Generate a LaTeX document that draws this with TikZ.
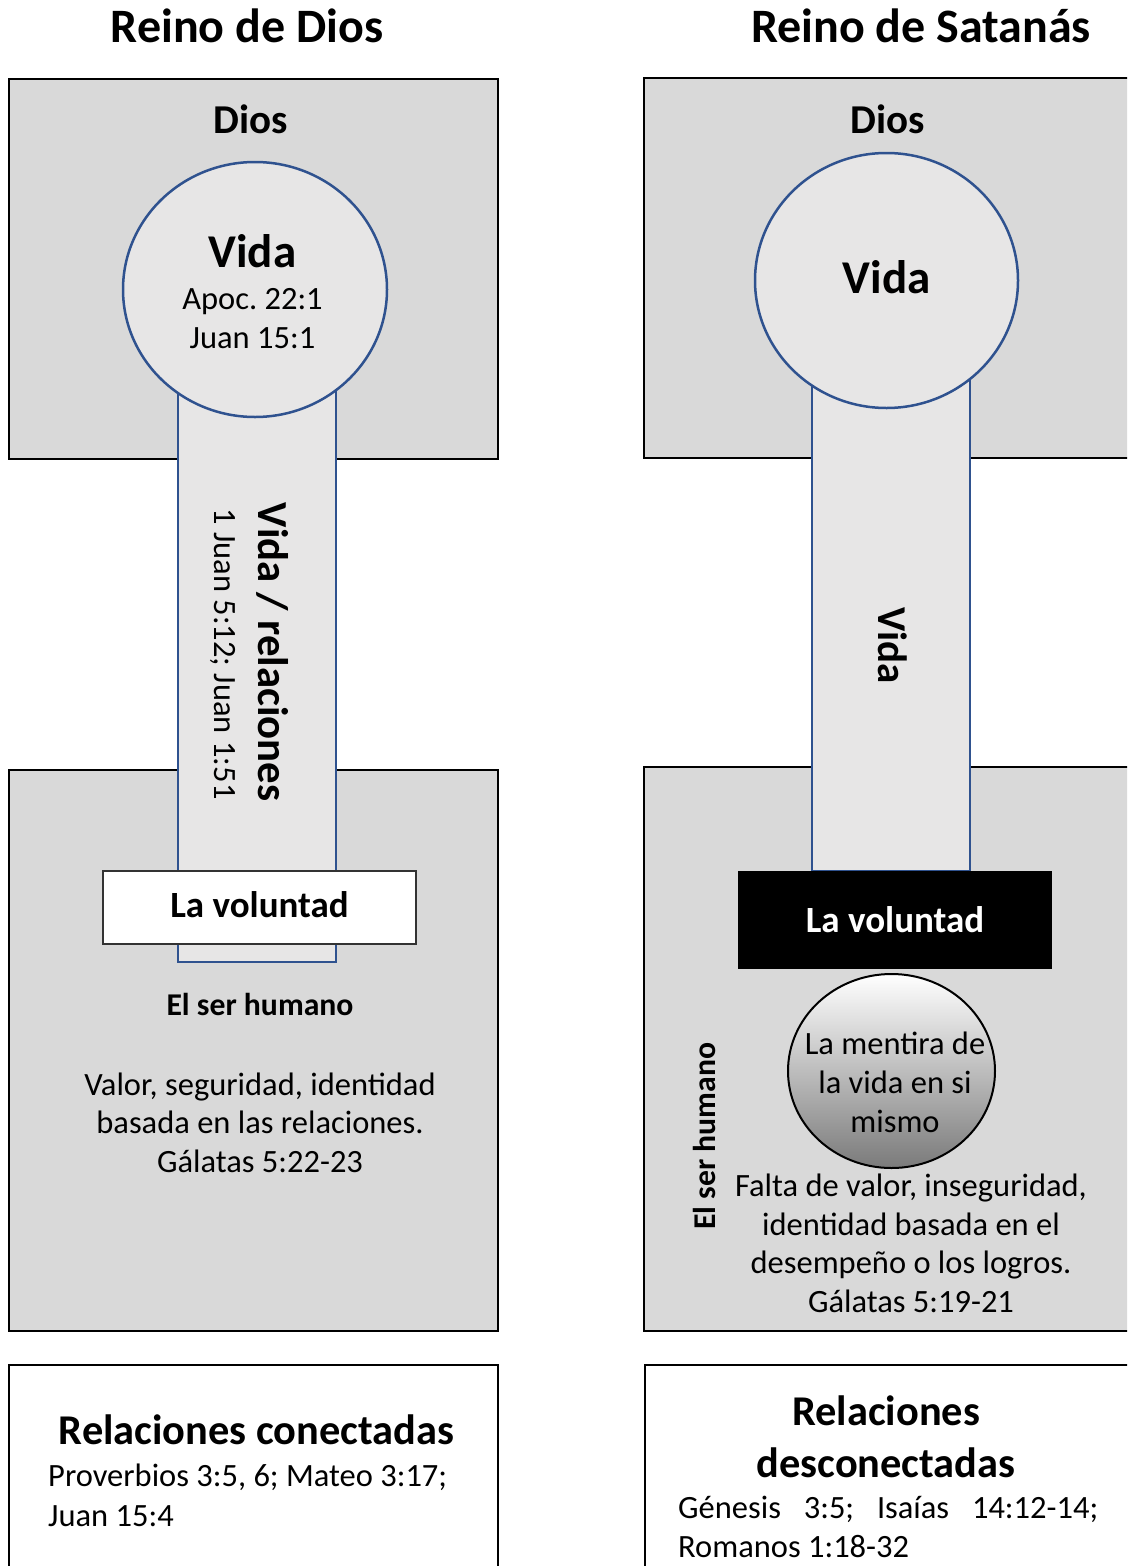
\documentclass[tikz,border=0pt]{standalone}
\usepackage{fontspec}
\setmainfont{Carlito}
\usepackage{tikz}
\usetikzlibrary{shapes.geometric}
\usepackage{xcolor}
\definecolor{cajagris}{HTML}{D9D9D9}
\definecolor{tubogris}{HTML}{E7E6E6}
\definecolor{azul}{HTML}{2F528F}

\begin{document}
\begin{tikzpicture}[x=1pt, y=-1pt,
  caja/.style={draw=black, line width=2.5pt, fill=cajagris},
  blanca/.style={draw=black, line width=2.5pt, fill=white},
  tubo/.style={draw=azul, line width=2.5pt, fill=tubogris},
  vida/.style={ellipse, draw=azul, line width=2.5pt, fill=tubogris, inner sep=0pt, minimum width=264pt, minimum height=255pt},
  texto/.style={inner sep=0pt, anchor=base, align=center, font=\fontsize{32.5}{38.5}\selectfont},
  negrita/.style={inner sep=0pt, anchor=base, align=center, font=\bfseries\fontsize{#1}{#1}\selectfont}]
  \useasboundingbox (0,0) rectangle (1127,1566);
  \clip (0,0) rectangle (1127,1566);

  % Titles
  \node[negrita=48] (reinoD) at (247,42) {Reino de Dios};
  \node[negrita=48] (reinoS) at (921,42) {Reino de Satanás};

  % Boxes
  \draw[caja] (9,79) rectangle (498,459);
  \draw[caja] (9,770) rectangle (498,1331);
  \draw[blanca] (9,1365) rectangle (498,1600);
  \draw[caja] (644,78) rectangle (1140,458);
  \draw[caja] (644,767) rectangle (1140,1331);
  \draw[blanca] (645,1365) rectangle (1140,1600);

  % Pillars
  \draw[tubo] (178,385) rectangle (336,962);
  \draw[tubo] (812,375) rectangle (970,871);

  % Reino de Dios
  \node[negrita=41] (diosD) at (251,133) {Dios};
  \node[vida] (vidaD) at (255,289.5) {};
  \node[negrita=47] (vidaDt) at (252.5,267) {Vida};
  \node[texto] (apoc) at (252.5,348) {Apoc.\ 22:1\\Juan 15:1};
  \node[negrita=42.8, rotate=-90] (relac) at (258,652) {Vida / relaciones};
  \node[texto, rotate=-90] (juan) at (214,654) {1 Juan 5:12; Juan 1:51};
  \node[draw=black!80, line width=1.5pt, fill=white, minimum width=313pt, minimum height=73pt] (volD) at (259.5,907.5) {};
  \node[negrita=37] (volDt) at (259.5,917) {La voluntad};
  \node[negrita=31.7] (humanoD) at (260,1015) {El ser humano};
  \node[texto] (valor) at (260,1172) {Valor, seguridad, identidad\\basada en las relaciones.\\Gálatas 5:22-23};
  \node[negrita=42.4] (conect) at (256.5,1444) {Relaciones conectadas};
  \node[texto, anchor=base west, align=left, font=\fontsize{32.5}{40}\selectfont] (provD) at (48,1526) {Proverbios 3:5, 6; Mateo 3:17;\\Juan 15:4};

  % Reino de Satanas
  \node[negrita=41] (diosS) at (887.5,133) {Dios};
  \node[vida, minimum width=263pt] (vidaS) at (886.5,280.5) {};
  \node[negrita=47] (vidaSt) at (886.7,293) {Vida};
  \node[negrita=41, rotate=-90] (vidaT) at (878,645.5) {Vida};
  \node[fill=black, minimum width=314pt, minimum height=98pt] (volS) at (895,920) {};
  \node[negrita=37, text=white] (volSt) at (895,932) {La voluntad};
  \node[ellipse, draw=black, line width=2pt, inner sep=0pt, minimum width=207pt, minimum height=194pt,
    top color=white, middle color=black!6, bottom color=black!52] (mentira) at (891.5,1071) {};
  \node[texto, font=\fontsize{32.5}{39}\selectfont] (mentirat) at (895,1132) {La mentira de\\la vida en si\\mismo};
  \node[negrita=31.7, rotate=90] (humanoS) at (715,1136) {El ser humano};
  \node[texto] (falta) at (911,1312) {Falta de valor, inseguridad,\\identidad basada en el\\desempeño o los logros.\\Gálatas 5:19-21};
  \node[negrita=42.4, font=\bfseries\fontsize{42.4}{52}\selectfont] (desconect) at (886,1477) {Relaciones\\desconectadas};
  \node[texto, anchor=base west, align=flush left, text width=420pt, font=\fontsize{32.5}{39}\selectfont] (genS) at (678,1518)
    {Génesis\hfill 3:5;\hfill Isaías\hfill 14:12-14;\\Romanos 1:18-32};
\end{tikzpicture}
\end{document}
